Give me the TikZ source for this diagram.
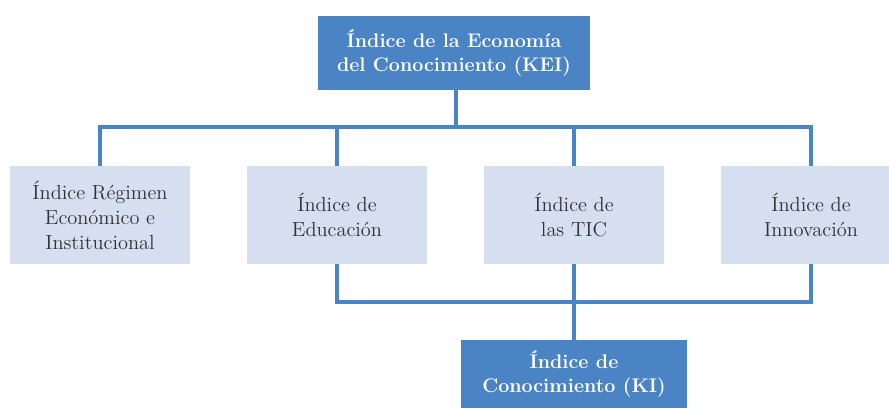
\documentclass[tikz,border=0pt]{standalone}
\usepackage{tikz}
\usetikzlibrary{calc}
\definecolor{kiblue}{RGB}{75,132,196}
\definecolor{kilight}{RGB}{214,223,240}
\definecolor{kitext}{RGB}{50,50,50}
\tikzset{
  mainbox/.style={fill=kiblue, text=white, font=\fontsize{14}{17.5}\selectfont\bfseries, align=center, inner sep=0pt},
  subbox/.style={fill=kilight, text=kitext, font=\fontsize{14.5}{17.8}\selectfont, align=center, inner sep=0pt, minimum width=4.5cm, minimum height=2.45cm},
  link/.style={line width=2.2pt, color=kiblue}
}

\begin{document}
\begin{tikzpicture}[x=0.025cm, y=-0.025cm]
			%%%%% START %%%%%
			\path[use as bounding box] (0,0) rectangle (889,408);
			\clip (0,0) rectangle (889,408);
			
			\node[mainbox, minimum width=6.8cm, minimum height=1.85cm] (kei) at (454,53) {Índice de la Economía\\del Conocimiento (KEI)};
			
			\node[subbox] (regimen) at (100,215) {Índice Régimen\\Económico e\\Institucional};
			\node[subbox] (educacion) at (337,215) {Índice de\\Educación};
			\node[subbox] (tic) at (574,215) {Índice de\\las TIC};
			\node[subbox] (innovacion) at (811,215) {Índice de\\Innovación};
			
			\node[mainbox, minimum width=5.65cm, minimum height=1.7cm] (ki) at (574,374) {Índice de\\Conocimiento (KI)};
			
			\coordinate (topbus) at (456,127);
			\coordinate (botbus) at (574,302);
			
			\draw[link] (kei.south -| topbus) -- (topbus);
			\draw[link] (regimen.north) |- (innovacion.north |- topbus) -- (innovacion.north);
			\draw[link] (educacion.north) -- (educacion.north |- topbus);
			\draw[link] (tic.north) -- (tic.north |- topbus);
			
			\draw[link] (educacion.south) |- (innovacion.south |- botbus) -- (innovacion.south);
			\draw[link] (tic.south) -- (ki.north);
			%%%%% END %%%%%
\end{tikzpicture}
\end{document}
